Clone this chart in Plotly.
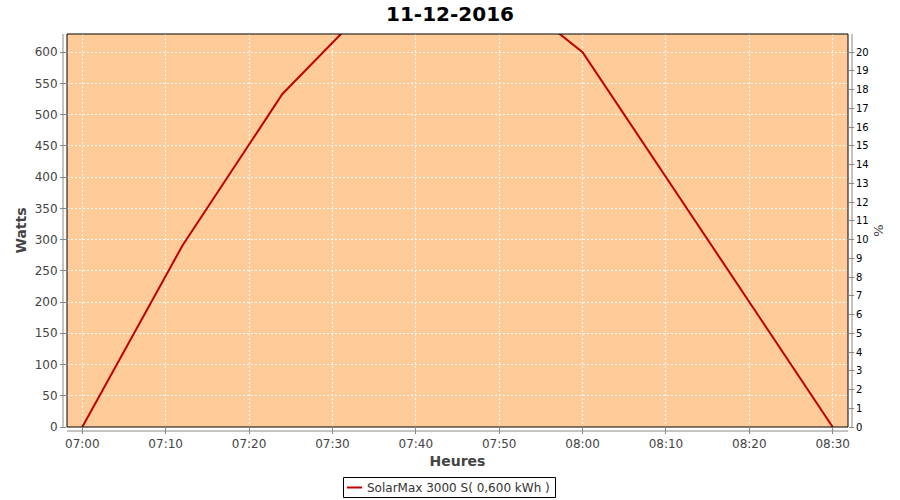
import plotly.graph_objects as go

times = ["2016-12-11 07:00", "2016-12-11 07:12", "2016-12-11 07:24", "2016-12-11 07:36",
         "2016-12-11 07:48", "2016-12-11 08:00", "2016-12-11 08:30"]
watts = [0, 290, 533, 697, 727, 600, 0]
series_name = "SolarMax 3000 S( 0,600 kWh )"
title_text = "11-12-2016"
line_color = "#C00000"

W, H = 900, 500
L, R, T, B = 67, 52, 34, 73
pw = W - L - R
ph = H - T - B


def px(x):
    return (x - L) / pw


def py(y):
    return (T + ph - y) / ph


fig = go.Figure()
fig.add_trace(go.Scatter(x=times, y=watts, mode="lines", name=series_name,
                         line=dict(color=line_color, width=2), showlegend=False))
# invisible trace for right axis
fig.add_trace(go.Scatter(x=[times[0]], y=[0], yaxis="y2", mode="markers",
                         marker=dict(opacity=0), showlegend=False, hoverinfo="skip"))

tickfont = dict(family="DejaVu Sans", size=12, color="#444444")
fig.update_layout(
    width=W, height=H,
    margin=dict(l=L, r=R, t=T, b=B, autoexpand=False),
    paper_bgcolor="white",
    plot_bgcolor="#FFCC99",
    title=dict(text="<b>" + title_text + "</b>", x=0.5, xanchor="center",
               xref="container", yref="container",
               y=1 - 14 / H, yanchor="middle",
               font=dict(family="DejaVu Sans", size=20, color="black")),
    xaxis=dict(
        type="date",
        range=["2016-12-11 06:58:10", "2016-12-11 08:31:50"],
        tickformat="%H:%M", dtick=600000, tick0="2016-12-11 07:00",
        showgrid=True, gridcolor="white", griddash="2px,2px", gridwidth=1,
        ticks="outside", ticklen=6, tickcolor="#888888",
        tickfont=tickfont, zeroline=False, showline=False,
        title=dict(text="<b>Heures</b>", font=dict(family="DejaVu Sans", size=14, color="#444444"),
                   standoff=5),
    ),
    yaxis=dict(
        range=[0, 629], dtick=50, tick0=0,
        showgrid=True, gridcolor="white", griddash="2px,2px", gridwidth=1,
        ticks="outside", ticklen=6, tickcolor="#888888",
        tickfont=tickfont, zeroline=False, showline=False,
        title=dict(text="<b>Watts</b>", font=dict(family="DejaVu Sans", size=14, color="#444444"),
                   standoff=4),
    ),
    yaxis2=dict(
        overlaying="y", side="right", range=[0, 21 * 629 / 630], dtick=1, tick0=0,
        showgrid=False, zeroline=False, showline=False,
        ticks="outside", ticklen=5, tickcolor="#888888",
        tickfont=dict(family="DejaVu Sans", size=10, color="black"),
        title=dict(text="%", font=dict(family="DejaVu Sans", size=13, color="#444444"),
                   standoff=6),
    ),
    showlegend=False,
)

shapes = [
    dict(type="rect", xref="paper", yref="paper", x0=0, x1=1, y0=0, y1=1,
         line=dict(color="black", width=1), fillcolor="rgba(0,0,0,0)", layer="above"),
    dict(type="line", xref="paper", yref="paper", x0=-4 / pw, x1=-4 / pw, y0=0, y1=1,
         line=dict(color="#888888", width=1)),
    dict(type="line", xref="paper", yref="paper", x0=1 + 4 / pw, x1=1 + 4 / pw, y0=0, y1=1,
         line=dict(color="#888888", width=1)),
    dict(type="line", xref="paper", yref="paper", x0=0, x1=1, y0=-4 / ph, y1=-4 / ph,
         line=dict(color="#888888", width=1)),
    # legend box and sample
    dict(type="rect", xref="paper", yref="paper", x0=px(343.5), x1=px(555.5),
         y0=py(477.5), y1=py(497.5), line=dict(color="black", width=1), fillcolor="white"),
    dict(type="line", xref="paper", yref="paper", x0=px(347), x1=px(362),
         y0=py(487.5), y1=py(487.5), line=dict(color=line_color, width=2)),
]
fig.update_layout(shapes=shapes)
fig.add_annotation(xref="paper", yref="paper", x=px(365), y=py(488), xanchor="left",
                   yanchor="middle", showarrow=False, text=series_name,
                   font=dict(family="DejaVu Sans", size=12, color="#333333"))

fig.write_html("out.html", config={"displayModeBar": False},
               post_script="document.body.style.margin='0';document.body.style.overflow='hidden';")
